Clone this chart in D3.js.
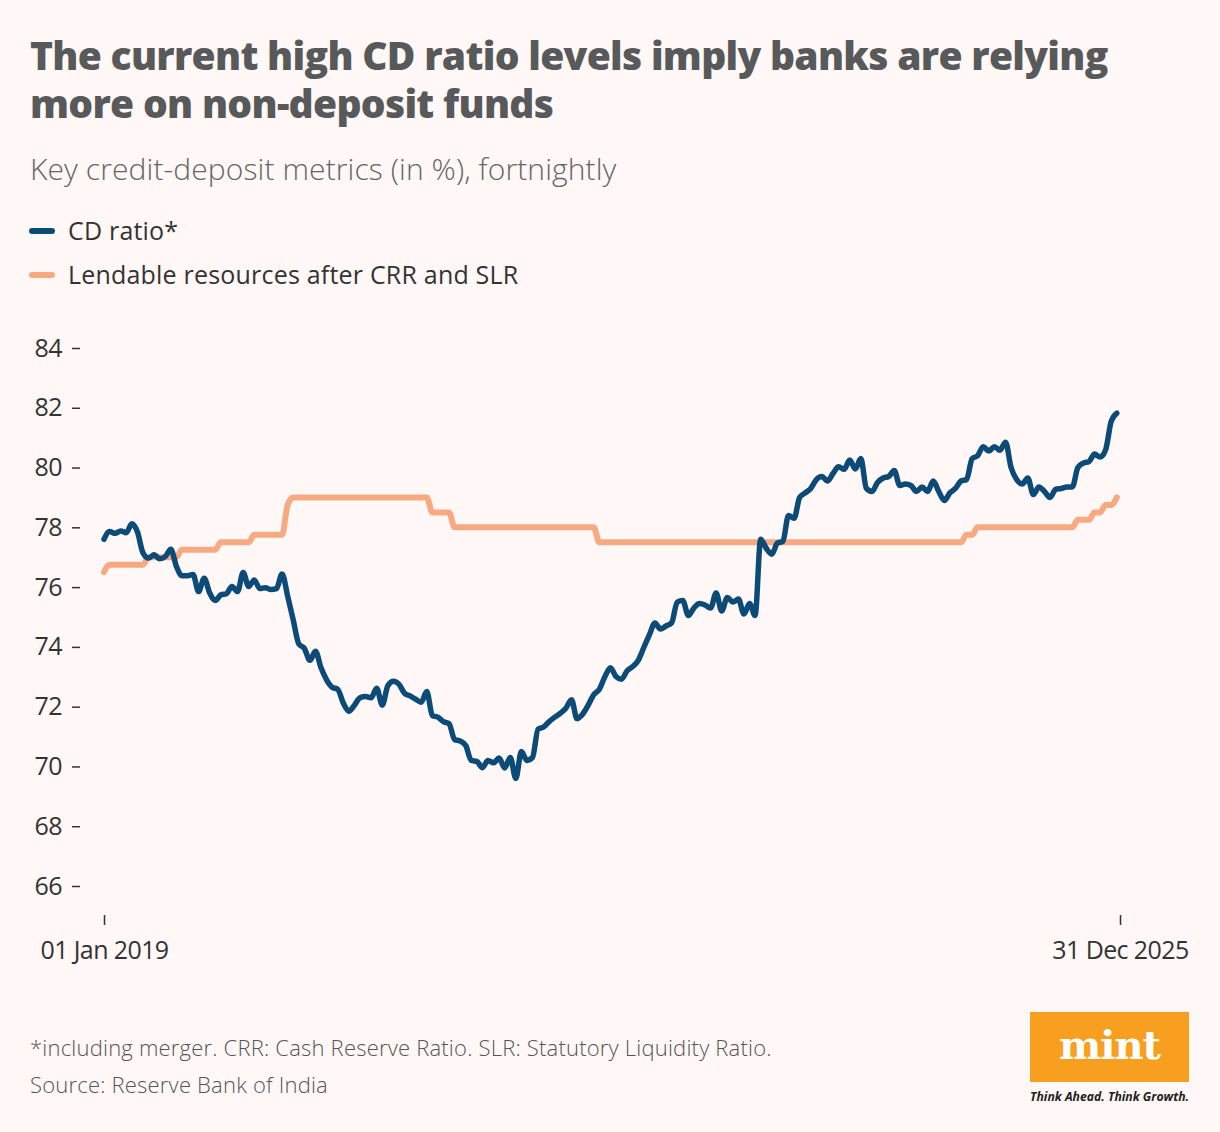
<!DOCTYPE html>
<html lang="en">
<head>
<meta charset="UTF-8">
<title>CD ratio</title>
<script src="https://cdn.jsdelivr.net/npm/d3@7/dist/d3.min.js"></script>
<style>
  body { margin: 0; background: #fff8f7; }
  #grafico { width: 1220px; height: 1132px; }
  text { font-family: 'Open Sans', sans-serif; }
</style>
</head>
<body>
<div id="grafico"></div>
<script>
// fortnightly series, first reading 01 Jan 2019
var startDate = "2019-01-01";
var endDate = "2025-12-31";

var cdRatio = [
  77.6, 77.86, 77.8, 77.88, 77.82, 78.12, 77.85, 77.15, 76.97, 77.08,
  76.95, 77.02, 77.27, 76.7, 76.38, 76.38, 76.42, 75.85, 76.3, 75.8,
  75.55, 75.74, 75.78, 76.02, 75.85, 76.49, 76.02, 76.24, 75.95, 75.98,
  75.92, 75.95, 76.44, 75.7, 74.9, 74.1, 73.95, 73.55, 73.85, 73.3,
  72.9, 72.65, 72.58, 72.12, 71.85, 72.05, 72.3, 72.34, 72.3, 72.62,
  72.05, 72.7, 72.85, 72.75, 72.45, 72.36, 72.25, 72.15, 72.51, 71.7,
  71.65, 71.5, 71.43, 70.9, 70.85, 70.7, 70.2, 70.17, 69.96, 70.2,
  70.12, 70.28, 69.95, 70.3, 69.6, 70.5, 70.2, 70.3, 71.25, 71.32,
  71.5, 71.65, 71.78, 71.95, 72.23, 71.6, 71.75, 72.05, 72.4, 72.58,
  73.0, 73.3, 73.01, 72.92, 73.2, 73.34, 73.55, 73.98, 74.4, 74.8,
  74.6, 74.7, 74.8, 75.5, 75.55, 75.05, 75.3, 75.45, 75.4, 75.3,
  75.8, 75.2, 75.65, 75.5, 75.6, 75.1, 75.45, 75.05, 77.6, 77.3,
  77.1, 77.47, 77.53, 78.4, 78.3, 79.0, 79.15, 79.3, 79.6, 79.7,
  79.55, 79.8, 80.03, 79.94, 80.25, 79.95, 80.3, 79.3, 79.2, 79.5,
  79.65, 79.7, 79.9, 79.4, 79.45, 79.4, 79.2, 79.35, 79.2, 79.55,
  79.2, 78.9, 79.15, 79.3, 79.55, 79.6, 80.3, 80.4, 80.7, 80.55,
  80.7, 80.58, 80.85, 80.0, 79.6, 79.45, 79.65, 79.1, 79.35, 79.2,
  79.0, 79.27, 79.3, 79.35, 79.35, 80.0, 80.15, 80.2, 80.45, 80.35,
  80.6, 81.55, 81.82
];

var lendable = [
  76.5, 76.75, 76.75, 76.75, 76.75, 76.75, 76.75, 76.75, 77.0, 77.0,
  77.0, 77.0, 77.0, 77.0, 77.25, 77.25, 77.25, 77.25, 77.25, 77.25,
  77.25, 77.5, 77.5, 77.5, 77.5, 77.5, 77.5, 77.75, 77.75, 77.75,
  77.75, 77.75, 77.75, 78.75, 79.0, 79.0, 79.0, 79.0, 79.0, 79.0,
  79.0, 79.0, 79.0, 79.0, 79.0, 79.0, 79.0, 79.0, 79.0, 79.0,
  79.0, 79.0, 79.0, 79.0, 79.0, 79.0, 79.0, 79.0, 79.0, 78.5,
  78.5, 78.5, 78.5, 78.0, 78.0, 78.0, 78.0, 78.0, 78.0, 78.0,
  78.0, 78.0, 78.0, 78.0, 78.0, 78.0, 78.0, 78.0, 78.0, 78.0,
  78.0, 78.0, 78.0, 78.0, 78.0, 78.0, 78.0, 78.0, 78.0, 77.5,
  77.5, 77.5, 77.5, 77.5, 77.5, 77.5, 77.5, 77.5, 77.5, 77.5,
  77.5, 77.5, 77.5, 77.5, 77.5, 77.5, 77.5, 77.5, 77.5, 77.5,
  77.5, 77.5, 77.5, 77.5, 77.5, 77.5, 77.5, 77.5, 77.5, 77.5,
  77.5, 77.5, 77.5, 77.5, 77.5, 77.5, 77.5, 77.5, 77.5, 77.5,
  77.5, 77.5, 77.5, 77.5, 77.5, 77.5, 77.5, 77.5, 77.5, 77.5,
  77.5, 77.5, 77.5, 77.5, 77.5, 77.5, 77.5, 77.5, 77.5, 77.5,
  77.5, 77.5, 77.5, 77.5, 77.5, 77.75, 77.75, 78.0, 78.0, 78.0,
  78.0, 78.0, 78.0, 78.0, 78.0, 78.0, 78.0, 78.0, 78.0, 78.0,
  78.0, 78.0, 78.0, 78.0, 78.0, 78.25, 78.25, 78.25, 78.5, 78.5,
  78.75, 78.75, 79.0
];

var yTicks = [66, 68, 70, 72, 74, 76, 78, 80, 82, 84];
var xTickLabels = ["01 Jan 2019", "31 Dec 2025"];

var titulo = ["The current high CD ratio levels imply banks are relying", "more on non-deposit funds"];
var subtitulo = "Key credit-deposit metrics (in %), fortnightly";
var series = ["CD ratio*", "Lendable resources after CRR and SLR"];
var notas = ["*including merger. CRR: Cash Reserve Ratio. SLR: Statutory Liquidity Ratio.", "Source: Reserve Bank of India"];

var colores = ["#0c4a78", "#f7a982"];

var w = 1220;
var h = 1132;

var parse = d3.timeParse("%Y-%m-%d");
var t0 = parse(startDate);
var t1 = parse(endDate);
var fechas = cdRatio.map(function(d, i){
    return d3.timeDay.offset(t0, i * 14);
});

var xScale = d3.scaleTime()
    .domain([t0, t1])
    .range([104, 1120]);
var yScale = d3.scaleLinear()
    .domain([66, 84])
    .range([886, 348]);

var grafico = d3.select("#grafico")
    .append("svg")
    .attr("width", w)
    .attr("height", h);

grafico.append("rect")
    .attr("width", w)
    .attr("height", h)
    .attr("fill", "#fff8f7");

// titulo
grafico.selectAll(".titulo")
    .data(titulo)
    .enter()
    .append("text")
    .attr("class", "titulo")
    .attr("x", 30)
    .attr("y", function(d, i){ return 70 + i * 48 })
    .attr("fill", "#58595b")
    .style("font-size", "39px")
    .style("font-weight", 800)
    .style("letter-spacing", "-0.7px")
    .text(function(d){ return d });

grafico.append("text")
    .attr("x", 30)
    .attr("y", 180)
    .attr("fill", "#666")
    .style("font-size", "30px")
    .style("font-weight", 300)
    .style("letter-spacing", "0.1px")
    .text(subtitulo);

// leyenda
var leyenda = grafico.selectAll(".leyenda")
    .data(series)
    .enter()
    .append("g")
    .attr("class", "leyenda")
    .attr("transform", function(d, i){ return "translate(30," + (231 + i * 44) + ")" });
leyenda.append("line")
    .attr("x1", 2).attr("x2", 22)
    .attr("stroke", function(d, i){ return colores[i] })
    .attr("stroke-width", 6)
    .attr("stroke-linecap", "round");
leyenda.append("text")
    .attr("x", 38)
    .attr("y", 9)
    .attr("fill", "#333")
    .style("font-size", "25px")
    .style("font-weight", 400)
    .style("letter-spacing", "0.2px")
    .text(function(d){ return d });

// ejes
var yAxis = d3.axisLeft(yScale)
    .tickValues(yTicks)
    .tickSize(8)
    .tickPadding(10);
var gy = grafico.append("g")
    .attr("transform", "translate(80,0)")
    .call(yAxis);
gy.select(".domain").remove();
gy.selectAll("line").attr("stroke", "#333").attr("stroke-width", 1.5);
gy.selectAll("text")
    .attr("fill", "#333")
    .style("font-size", "25px")
    .style("font-family", "'Open Sans', sans-serif")
    .style("letter-spacing", "-0.5px");

var xAxis = d3.axisBottom(xScale)
    .tickValues([t0, t1])
    .tickFormat(function(d, i){ return xTickLabels[i] })
    .tickSize(10)
    .tickPadding(16);
var gx = grafico.append("g")
    .attr("transform", "translate(0,915)")
    .call(xAxis);
gx.select(".domain").remove();
gx.selectAll("line").attr("stroke", "#333").attr("stroke-width", 1.5);
gx.selectAll("text")
    .attr("fill", "#333")
    .style("font-size", "25px")
    .style("font-family", "'Open Sans', sans-serif")
    .style("letter-spacing", "-0.6px");

// lineas
var linea = function(valores){
    return d3.line()
        .x(function(d, i){ return xScale(fechas[i]) })
        .y(function(d){ return yScale(d) })
        .curve(d3.curveMonotoneX)(valores);
};

grafico.append("path")
    .attr("d", linea(lendable))
    .attr("fill", "none")
    .attr("stroke", colores[1])
    .attr("stroke-width", 6)
    .attr("stroke-linejoin", "round")
    .attr("stroke-linecap", "round");

grafico.append("path")
    .attr("d", linea(cdRatio))
    .attr("fill", "none")
    .attr("stroke", colores[0])
    .attr("stroke-width", 5.5)
    .attr("stroke-linejoin", "round")
    .attr("stroke-linecap", "round");

// notas
grafico.selectAll(".nota")
    .data(notas)
    .enter()
    .append("text")
    .attr("class", "nota")
    .attr("x", 30)
    .attr("y", function(d, i){ return 1056 + i * 37 })
    .attr("fill", "#555")
    .style("font-size", "22px")
    .style("font-weight", 300)
    .style("letter-spacing", "0.2px")
    .text(function(d){ return d });

// logo
var logo = grafico.append("g").attr("transform", "translate(1030,1012)");
logo.append("rect")
    .attr("width", 159)
    .attr("height", 70)
    .attr("fill", "#f89f1f");
logo.append("text")
    .attr("x", 79.5)
    .attr("y", 47)
    .attr("text-anchor", "middle")
    .attr("fill", "#fff")
    .style("font-family", "'DejaVu Serif', serif")
    .style("font-weight", 700)
    .style("font-size", "40px")
    .style("letter-spacing", "-1px")
    .text("mint");
logo.append("text")
    .attr("x", 0)
    .attr("y", 89)
    .attr("fill", "#222")
    .attr("textLength", 159)
    .attr("lengthAdjust", "spacingAndGlyphs")
    .style("font-size", "13px")
    .style("font-weight", 700)
    .style("font-style", "italic")
    .text("Think Ahead. Think Growth.");
</script>
</body>
</html>
